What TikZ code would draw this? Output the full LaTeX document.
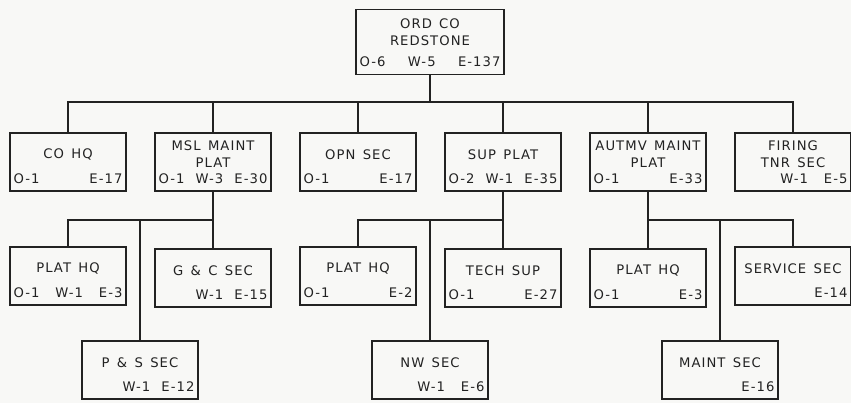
\documentclass[tikz,border=0pt]{standalone}
\usepackage{fontspec}
\usepackage{xcolor}
\usetikzlibrary{positioning, calc}
\newfontfamily\orgfont[LetterSpace=8,WordSpace=1.4]{DejaVu Sans}
\definecolor{Paper}{HTML}{F8F8F6}
\definecolor{Ink}{HTML}{222222}

\begin{document}
\begin{tikzpicture}[
    x=0.02cm,
    y=-0.02cm,
    font=\orgfont\fontsize{7.5}{9.6}\selectfont,
    every node/.style={text=Ink},
    unitbox/.style={draw=Ink, line width=1.1pt, minimum width=2.32cm, minimum height=1.16cm, inner sep=0pt},
    topbox/.style={unitbox, minimum width=2.96cm, minimum height=1.30cm},
    caption/.style={align=center, inner sep=0pt, yshift=0.15cm},
    counts/.style={text width=2.18cm, align=left, inner sep=0pt, above=0.16cm},
    link/.style={draw=Ink, line width=1pt}
]

\fill[Paper] (0,0) rectangle (851,403);
\useasboundingbox (0,0) rectangle (851,403);

% company
\node[topbox] (ord) at (430,42) {};
\node[caption, yshift=0.05cm] (ordName) at (ord.center) {ORD CO\\REDSTONE};
\node[counts, text width=2.82cm] (ordN) at (ord.south) {O-6\hfill W-5\hfill E-137};

% platoons and sections
\node[unitbox] (cohq) at (68,162) {};
\node[caption] (cohqName) at (cohq.center) {CO HQ};
\node[counts] (cohqN) at (cohq.south) {O-1\hfill E-17};

\node[unitbox] (msl) at (213,162) {};
\node[caption] (mslName) at (msl.center) {MSL MAINT\\PLAT};
\node[counts] (mslN) at (msl.south) {O-1\hfill W-3\hfill E-30};

\node[unitbox] (opn) at (358,162) {};
\node[caption] (opnName) at (opn.center) {OPN SEC};
\node[counts] (opnN) at (opn.south) {O-1\hfill E-17};

\node[unitbox] (sup) at (503,162) {};
\node[caption] (supName) at (sup.center) {SUP PLAT};
\node[counts] (supN) at (sup.south) {O-2\hfill W-1\hfill E-35};

\node[unitbox] (autmv) at (648,162) {};
\node[caption] (autmvName) at (autmv.center) {AUTMV MAINT\\PLAT};
\node[counts] (autmvN) at (autmv.south) {O-1\hfill E-33};

\node[unitbox] (firing) at (793,162) {};
\node[caption] (firingName) at (firing.center) {FIRING\\TNR SEC};
\node[counts] (firingN) at (firing.south) {\phantom{O-1}\hfill W-1\hfill E-5};

% second level
\node[unitbox] (mslhq) at (68,276) {};
\node[caption] (mslhqName) at (mslhq.center) {PLAT HQ};
\node[counts] (mslhqN) at (mslhq.south) {O-1\hfill W-1\hfill E-3};

\node[unitbox, below=1.12cm of msl] (gc) {};
\node[caption] (gcName) at (gc.center) {G \& C SEC};
\node[counts] (gcN) at (gc.south) {\phantom{O-1}\hfill W-1\hfill E-15};

\node[unitbox] (ps) at (140,370) {};
\node[caption] (psName) at (ps.center) {P \& S SEC};
\node[counts] (psN) at (ps.south) {\phantom{O-1}\hfill W-1\hfill E-12};

\node[unitbox] (suphq) at (358,276) {};
\node[caption] (suphqName) at (suphq.center) {PLAT HQ};
\node[counts] (suphqN) at (suphq.south) {O-1\hfill E-2};

\node[unitbox, below=1.12cm of sup] (tech) {};
\node[caption] (techName) at (tech.center) {TECH SUP};
\node[counts] (techN) at (tech.south) {O-1\hfill E-27};

\node[unitbox] (nw) at (430,370) {};
\node[caption] (nwName) at (nw.center) {NW SEC};
\node[counts] (nwN) at (nw.south) {\phantom{O-1}\hfill W-1\hfill E-6};

\node[unitbox, below=1.12cm of autmv] (autmvhq) {};
\node[caption] (autmvhqName) at (autmvhq.center) {PLAT HQ};
\node[counts] (autmvhqN) at (autmvhq.south) {O-1\hfill E-3};

\node[unitbox] (service) at (793,276) {};
\node[caption] (serviceName) at (service.center) {SERVICE SEC};
\node[counts] (serviceN) at (service.south) {\hfill E-14};

\node[unitbox] (maint) at (720,370) {};
\node[caption] (maintName) at (maint.center) {MAINT SEC};
\node[counts] (maintN) at (maint.south) {\hfill E-16};

% connectors
\coordinate (bus) at (430,102);
\draw[link] (ord) -- (bus);
\draw[link] (cohq.north) |- (bus) -| (firing.north);
\draw[link] (msl.north) -- (msl.north |- bus);
\draw[link] (opn.north) -- (opn.north |- bus);
\draw[link] (sup.north) -- (sup.north |- bus);
\draw[link] (autmv.north) -- (autmv.north |- bus);

\coordinate (mslbus) at ($(msl.south)+(0,28)$);
\draw[link] (msl) -- (gc);
\draw[link] (mslhq.north) |- (mslbus);
\draw[link] (ps.north) -- (ps.north |- mslbus);

\coordinate (supbus) at ($(sup.south)+(0,28)$);
\draw[link] (sup) -- (tech);
\draw[link] (suphq.north) |- (supbus);
\draw[link] (nw.north) -- (nw.north |- supbus);

\coordinate (autmvbus) at ($(autmv.south)+(0,28)$);
\draw[link] (autmv) -- (autmvhq);
\draw[link] (autmvbus) -| (service.north);
\draw[link] (maint.north) -- (maint.north |- autmvbus);

\end{tikzpicture}
\end{document}
